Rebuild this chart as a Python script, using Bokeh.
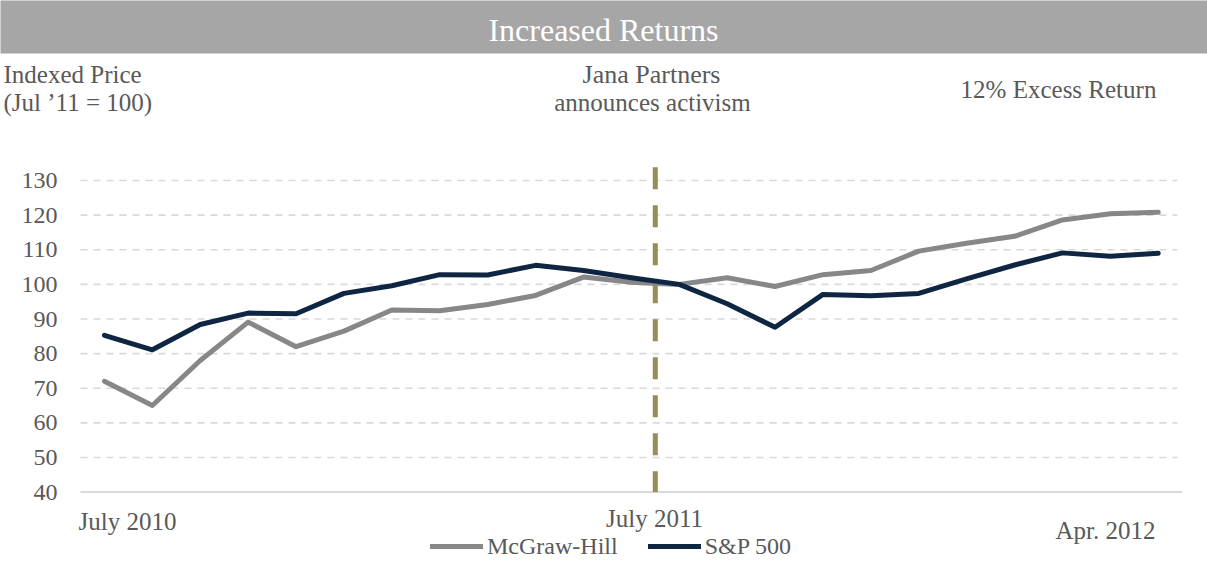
from bokeh.plotting import figure
from bokeh.models import (BoxAnnotation, Label, Legend, LegendItem, FixedTicker)
from bokeh.embed import file_html
from bokeh.resources import INLINE

# ---------------- data ----------------
months = ["Jul 2010", "Aug 2010", "Sep 2010", "Oct 2010", "Nov 2010", "Dec 2010",
          "Jan 2011", "Feb 2011", "Mar 2011", "Apr 2011", "May 2011", "Jun 2011",
          "Jul 2011", "Aug 2011", "Sep 2011", "Oct 2011", "Nov 2011", "Dec 2011",
          "Jan 2012", "Feb 2012", "Mar 2012", "Apr 2012", "May 2012"]
mcgraw_hill = [72.0, 65.0, 78.0, 89.1, 82.0, 86.5, 92.6, 92.4, 94.2, 96.8, 102.1, 100.6,
               100.0, 101.9, 99.4, 102.8, 104.0, 109.6, 111.9, 113.9, 118.6, 120.4, 120.8]
sp500 = [85.3, 81.1, 88.4, 91.7, 91.5, 97.4, 99.6, 102.8, 102.7, 105.5, 104.0, 101.9,
         100.0, 94.4, 87.6, 97.1, 96.7, 97.4, 101.6, 105.6, 109.1, 108.1, 109.0]
y_ticks = [40, 50, 60, 70, 80, 90, 100, 110, 120, 130]
x_labels = ["July 2010", "July 2011", "Apr. 2012"]
event_index = 11.5          # Jana Partners announcement
event_top = 133.8

idx = list(range(len(months)))

# ---------------- geometry helpers (page px -> data) ----------------
W, H = 1207, 563
PX_X = 47.9                 # px per category
FRAME_LEFT = 80.0           # page x of category edge -0.5
PX_Y = 3.462                # px per index point
Y0_PAGE = 491.6             # page y of value 40
TXT_SHIFT = 8               # text baseline correction (px)


def dx(page_x):
    return (page_x - FRAME_LEFT) / PX_X - 0.5


def dy(page_y):
    return 40 + (Y0_PAGE - page_y) / PX_Y


def ty(page_y):
    return dy(page_y - TXT_SHIFT)


FONT = "Liberation Serif"
TXT = "#595959"
GRAY = "#878787"
NAVY = "#0f2642"
OLIVE = "#988d55"
GRID = "#d9d9d9"

p = figure(width=W, height=H, x_range=(dx(0), dx(W)), y_range=(dy(H), dy(0)),
           output_backend="svg", toolbar_location=None, x_axis_location=None,
           min_border_left=0, min_border_right=0, min_border_top=0,
           min_border_bottom=0)
p.outline_line_color = None
p.background_fill_color = "white"
p.border_fill_color = "white"
p.xgrid.visible = False
p.ygrid.visible = False

# y axis, drawn at the left edge of the category area
yax = p.yaxis[0]
yax.fixed_location = -0.5
yax.ticker = FixedTicker(ticks=y_ticks)
yax.axis_line_color = None
yax.major_tick_line_color = None
yax.minor_tick_line_color = None
yax.major_tick_out = 0
yax.major_tick_in = 0
yax.major_label_standoff = 23
yax.major_label_text_font = FONT
yax.major_label_text_font_size = "24px"
yax.major_label_text_color = TXT

# title bar
p.add_layout(BoxAnnotation(left=dx(0) - 1, right=dx(W) + 1, bottom=dy(53),
                           top=dy(0) + 5, fill_color="#a6a6a6", fill_alpha=1.0,
                           line_color=None, level="underlay"))

# horizontal grid lines (dashed) and baseline at 40 (solid)
grid_vals = y_ticks[1:]
p.segment(x0=[-0.5] * len(grid_vals), y0=grid_vals,
          x1=[22.4] * len(grid_vals), y1=grid_vals,
          line_color=GRID, line_width=1.6, line_dash="7 6")
p.segment(x0=[-0.5], y0=[y_ticks[0]], x1=[22.5], y1=[y_ticks[0]],
          line_color=GRID, line_width=2)

# event line
p.segment(x0=[event_index], y0=[event_top], x1=[event_index], y1=[y_ticks[0]],
          line_color=OLIVE, line_width=5, line_dash="22 16")

# series
r1 = p.line(idx, mcgraw_hill, line_color=GRAY, line_width=5, line_cap="round",
            line_join="round")
r2 = p.line(idx, sp500, line_color=NAVY, line_width=5, line_cap="round",
            line_join="round")


def lab(text, x, y, size, align="center", color=TXT):
    p.add_layout(Label(x=x, y=y, text=text, text_font=FONT, text_font_size=size,
                       text_color=color, text_align=align,
                       text_baseline="alphabetic"))


lab("Increased Returns", dx(603), ty(37.3), "32px", color="white")
lab("Indexed Price", dx(3), ty(82.3), "25px", align="left")
lab("(Jul \u201911 = 100)", dx(3), ty(110), "25px", align="left")
lab("Jana Partners", dx(651), ty(81.7), "26px")
lab("announces activism", dx(652), ty(110), "25px")
lab("12% Excess Return", dx(1058), ty(97.3), "25px")

lab(x_labels[0], dx(127), ty(529), "25px")
lab(x_labels[1], dx(654), ty(525.7), "25px")
lab(x_labels[2], dx(1105), ty(538), "25px")

legend = Legend(items=[LegendItem(label="McGraw-Hill", renderers=[r1]),
                       LegendItem(label="S&P 500", renderers=[r2])],
                orientation="horizontal", location=(430, 3))
legend.padding = 0
legend.margin = 0
legend.spacing = 30
legend.glyph_width = 53
legend.glyph_height = 28
legend.label_height = 28
legend.label_standoff = 4
legend.label_text_font = FONT
legend.label_text_font_size = "24px"
legend.label_text_color = TXT
legend.background_fill_alpha = 0
legend.border_line_color = None
p.add_layout(legend)

open("out.html", "w").write(file_html(p, INLINE))
